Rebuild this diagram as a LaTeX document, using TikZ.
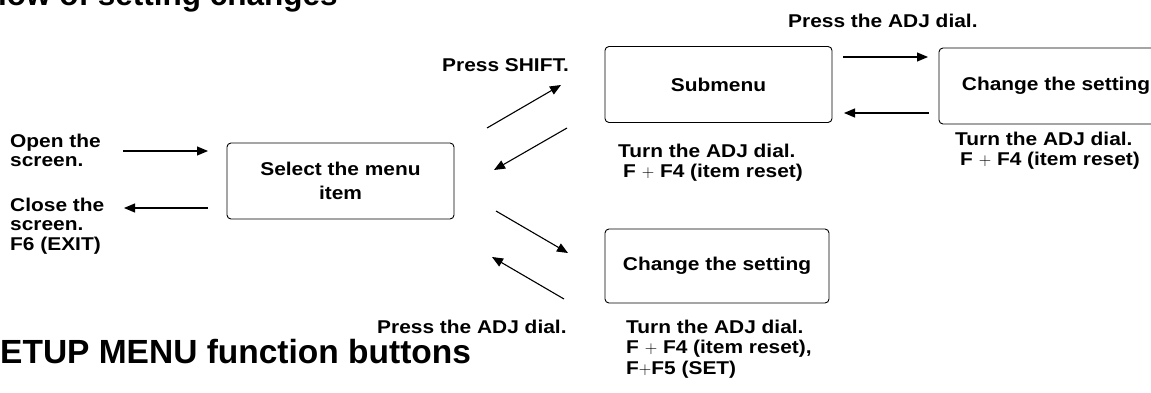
\documentclass[tikz,border=0pt]{standalone}
\usepackage{fontspec}
\setmainfont{Liberation Sans}
\newfontfamily\widefont{Liberation Sans}[FakeStretch=1.13]
\usetikzlibrary{arrows.meta, positioning}

\begin{document}
\begin{tikzpicture}[x=1pt, y=-1pt, >={Triangle[length=11pt, width=9pt]},
    stepbox/.style={draw, rectangle, rounded corners=4pt, line width=0.9pt, minimum width=227pt, minimum height=76pt, align=center, font=\widefont\bfseries\fontsize{18.5}{24.5}\selectfont},
    note/.style={anchor=base west, inner sep=0pt, align=left, font=\widefont\bfseries\fontsize{18.5}{19.5}\selectfont},
    flow/.style={->, line width=1.1pt}]
    \clip (0,0) rectangle (1151,393);

    % headings, cut by the page edge
    \node[anchor=base west, inner sep=0pt, font=\bfseries\fontsize{31.5}{31.5}\selectfont] (headtop) at (-2,6) {low of setting changes};
    \node[anchor=base west, inner sep=0pt, font=\bfseries\fontsize{33.5}{33.5}\selectfont] (headlow) at (0,363) {ETUP MENU function buttons};

    % boxes
    \node[stepbox] (select) at (340.5,181) {Select the menu\\item};
    \node[stepbox] (submenu) at (718.5,84.5) {Submenu};
    \node[stepbox, minimum width=224pt, minimum height=74pt] (change) at (717,266) {Change the setting};
    \node[stepbox, minimum width=234pt] (changeright) at (1056,86) {Change the setting};

    % labels (base = last line)
    \node[note] (openlbl) at (10,167) {Open the\\screen.};
    \node[note] (closelbl) at (10,250) {Close the\\screen.\\F6 (EXIT)};
    \node[note] (shiftlbl) at (442,72) {Press SHIFT.};
    \node[note] (presstop) at (788,28) {Press the ADJ dial.};
    \node[note] (turnsub) at (618,177) {Turn the ADJ dial.\\\hspace{5pt}F $+$ F4 (item reset)};
    \node[note] (turnright) at (955,165) {Turn the ADJ dial.\\\hspace{5pt}F $+$ F4 (item reset)};
    \node[note] (presslow) at (377,333) {Press the ADJ dial.};
    \node[note, font=\widefont\bfseries\fontsize{18.5}{20.5}\selectfont] (turnlow) at (626,374) {Turn the ADJ dial.\\F $+$ F4 (item reset),\\F$+$F5 (SET)};

    % arrow ends
    \coordinate (open1) at (123,151);   \coordinate (open2) at (208,151);
    \coordinate (close1) at (208,208);  \coordinate (close2) at (124,208);
    \coordinate (shift1) at (487,128);  \coordinate (shift2) at (561,85);
    \coordinate (back1) at (567,128);   \coordinate (back2) at (494,170);
    \coordinate (set1) at (496,211);    \coordinate (set2) at (568,253);
    \coordinate (ret1) at (564,299);    \coordinate (ret2) at (492,257);
    \coordinate (adj1) at (843,57);     \coordinate (adj2) at (928,57);
    \coordinate (turn1) at (929,113);   \coordinate (turn2) at (844,113);

    \draw[flow] (open1) -- (open2);
    \draw[flow] (close1) -- (close2);
    \draw[flow] (shift1) -- (shift2);
    \draw[flow] (back1) -- (back2);
    \draw[flow] (set1) -- (set2);
    \draw[flow] (ret1) -- (ret2);
    \draw[flow] (adj1) -- (adj2);
    \draw[flow] (turn1) -- (turn2);
\end{tikzpicture}
\end{document}
